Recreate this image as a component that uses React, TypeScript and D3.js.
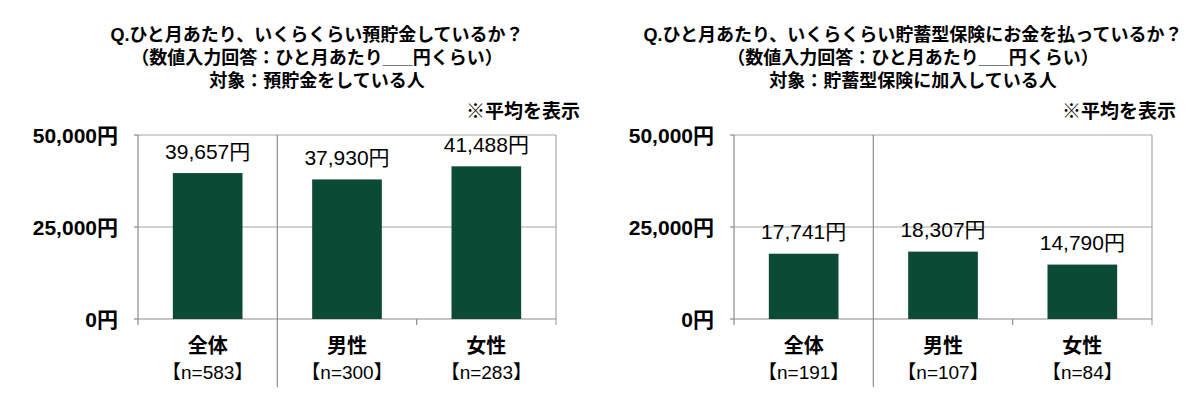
import * as d3 from "d3";

const categories = ["全体", "男性", "女性"];
const savingsValues = [39657, 37930, 41488];
const savingsN = [583, 300, 283];
const insuranceValues = [17741, 18307, 14790];
const insuranceN = [191, 107, 84];
const yTicks = [0, 25000, 50000];

const savingsTitle = [
  "Q.ひと月あたり、いくらくらい預貯金しているか？",
  "（数値入力回答：ひと月あたり___円くらい）",
  "対象：預貯金をしている人",
];
const insuranceTitle = [
  "Q.ひと月あたり、いくらくらい貯蓄型保険にお金を払っているか？",
  "（数値入力回答：ひと月あたり___円くらい）",
  "対象：貯蓄型保険に加入している人",
];
const noteText = "※平均を表示";

const FONT = "'Liberation Sans', Arial, 'Noto Sans CJK JP', sans-serif";
const BAR = "#0b4a34";
const GRID = "#a6a6a6";
const AXIS = "#8c8c8c";

const plotTop = 135;
const plotBottom = 319;
const plotWidth = 418;

const yen = (v: number) => d3.format(",")(v) + "円";

type PanelProps = {
  left: number;
  title: string[];
  values: number[];
  ns: number[];
};

const Panel = ({ left, title, values, ns }: PanelProps) => {
  const x = d3
    .scaleBand<string>()
    .domain(categories)
    .range([left, left + plotWidth])
    .paddingInner(0.5)
    .paddingOuter(0.25);
  const y = d3.scaleLinear().domain([0, 50000]).range([plotBottom, plotTop]);
  const step = x.step();
  const right = left + plotWidth;
  const titleX = left + plotWidth / 2 - 30;
  const titleY = [34.5, 57.5, 81];

  return (
    <g>
      {title.map((t, i) => (
        <text
          key={i}
          x={titleX}
          y={titleY[i]}
          textAnchor="middle"
          dominantBaseline="central"
          fontSize={18}
          fontWeight="bold"
        >
          {t}
        </text>
      ))}
      <text
        x={right + 24}
        y={111}
        textAnchor="end"
        dominantBaseline="central"
        fontSize={19}
        fontWeight="bold"
      >
        {noteText}
      </text>

      {/* gridlines + y ticks */}
      {yTicks.map((t) => (
        <g key={t}>
          {t > 0 && (
            <line x1={left} x2={right} y1={y(t)} y2={y(t)} stroke={GRID} strokeWidth={1.2} />
          )}
          <line x1={left - 4} x2={left} y1={y(t)} y2={y(t)} stroke={AXIS} strokeWidth={1.2} />
          <text
            x={left - 20}
            y={y(t)}
            textAnchor="end"
            dominantBaseline="central"
            fontSize={21}
            fontWeight="bold"
          >
            {yen(t)}
          </text>
        </g>
      ))}

      {/* frame */}
      <line x1={right} x2={right} y1={plotTop} y2={plotBottom + 6} stroke={GRID} strokeWidth={1.2} />
      <line x1={left} x2={left} y1={plotTop} y2={plotBottom + 6} stroke={AXIS} strokeWidth={1.2} />
      <line x1={left} x2={right} y1={plotBottom} y2={plotBottom} stroke={AXIS} strokeWidth={1.2} />
      {/* divider between total and gender groups */}
      <line x1={left + step} x2={left + step} y1={plotTop} y2={387} stroke={AXIS} strokeWidth={1.2} />
      <line
        x1={left + step * 2}
        x2={left + step * 2}
        y1={plotBottom}
        y2={plotBottom + 6}
        stroke={AXIS}
        strokeWidth={1.2}
      />

      {categories.map((c, i) => {
        const cx = (x(c) ?? 0) + x.bandwidth() / 2;
        return (
          <g key={c}>
            <rect
              x={x(c)}
              y={y(values[i])}
              width={x.bandwidth()}
              height={plotBottom - y(values[i])}
              fill={BAR}
            />
            <text
              x={cx}
              y={y(values[i]) - 22}
              textAnchor="middle"
              dominantBaseline="central"
              fontSize={21}
            >
              {yen(values[i])}
            </text>
            <text
              x={cx}
              y={346}
              textAnchor="middle"
              dominantBaseline="central"
              fontSize={20}
              fontWeight="bold"
            >
              {c}
            </text>
            <text
              x={cx}
              y={372}
              textAnchor="middle"
              dominantBaseline="central"
              fontSize={19}
            >
              {`【n=${ns[i]}】`}
            </text>
          </g>
        );
      })}
    </g>
  );
};

export default function App() {
  return (
    <svg
      width={1200}
      height={398}
      viewBox="0 0 1200 398"
      style={{ position: "absolute", left: 0, top: 0, background: "#fff" }}
      fontFamily={FONT}
      fill="#000"
    >
      <rect width={1200} height={398} fill="#fff" />
      <Panel left={138} title={savingsTitle} values={savingsValues} ns={savingsN} />
      <Panel left={734} title={insuranceTitle} values={insuranceValues} ns={insuranceN} />
    </svg>
  );
}
